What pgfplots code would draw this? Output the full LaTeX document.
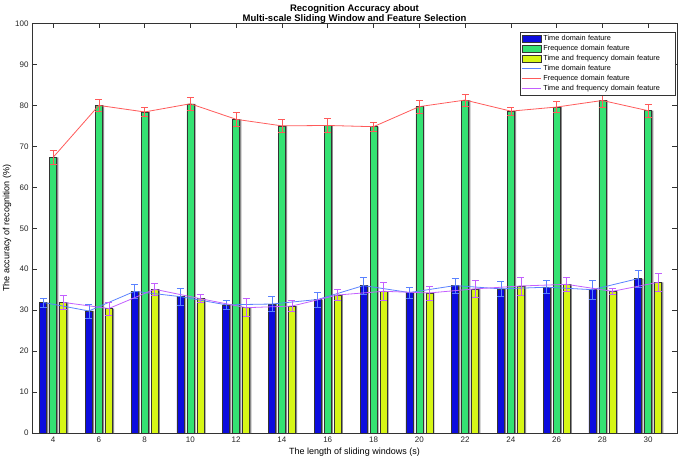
\documentclass[border=0pt]{standalone}
\usepackage{fontspec}
\setmainfont{Liberation Sans}
\usepackage{pgfplots}
\pgfplotsset{compat=1.18}
\usepackage{pgfplotstable}

\definecolor{barblue}{RGB}{12,12,222}
\definecolor{bargreen}{RGB}{52,226,114}
\definecolor{baryellow}{RGB}{214,246,22}
\definecolor{lineblue}{RGB}{90,130,255}
\definecolor{linered}{RGB}{255,90,90}
\definecolor{linepurple}{RGB}{195,95,255}

\pgfplotstableread{
x v e
1 31.9 1.1
2 29.8 1.7
3 34.6 1.8
4 33.3 2.0
5 31.3 1.2
6 31.5 1.9
7 32.6 1.8
8 36.0 2.1
9 34.3 1.3
10 36.0 1.8
11 35.2 1.8
12 35.6 1.6
13 35.0 2.4
14 37.7 2.0
}\timedata

\pgfplotstableread{
x v e
1 67.3 1.7
2 80.0 1.5
3 78.4 1.1
4 80.4 1.6
5 76.6 1.8
6 75.0 1.6
7 75.1 1.7
8 74.8 1.05
9 79.7 1.6
10 81.3 1.4
11 78.6 0.95
12 79.6 1.35
13 81.2 1.75
14 78.7 1.5
}\freqdata

\pgfplotstableread{
x v e
1 31.9 1.7
2 30.4 1.6
3 35.1 1.4
4 32.8 1.0
5 30.6 2.2
6 31.0 1.3
7 33.7 1.4
8 34.6 2.2
9 34.2 1.7
10 35.2 2.0
11 35.9 2.2
12 36.3 1.8
13 34.6 0.75
14 36.8 2.2
}\bothdata

\pgfplotsset{
  barleg/.style={legend image code/.code={\draw[##1] (0pt,-3.5pt) rectangle (19pt,3.5pt);}},
  lineleg/.style={legend image code/.code={\draw[##1] (0pt,0pt) -- (19pt,0pt);}},
}

\begin{document}
\begin{tikzpicture}
\path[use as bounding box] (-32pt,-25pt) rectangle (653pt,433pt);
\begin{axis}[
  at={(0pt,0pt)}, anchor=south west,
  scale only axis, width=645pt, height=409.5pt,
  xmin=0.54, xmax=14.63, ymin=0, ymax=100,
  xtick={1,2,...,14},
  xticklabels={4,6,8,10,12,14,16,18,20,22,24,26,28,30},
  ytick={0,10,...,100},
  tick align=inside, major tick length=5pt,
  axis line style={black!80, line width=0.8pt},
  tick style={black!80, line width=0.6pt},
  /pgf/number format/assume math mode=true,
  tick label style={font=\fontsize{8}{9}\selectfont, text=black!85},
  xlabel={The length of sliding windows (s)},
  ylabel={The accuracy of recognition (\%)},
  label style={font=\fontsize{9}{10}\selectfont},
  ylabel style={yshift=-3pt},
  xlabel style={yshift=1pt},
  title={Recognition Accuracy about\\Multi-scale Sliding Window and Feature Selection},
  title style={align=center, font=\bfseries\fontsize{9.5}{10}\selectfont, at={(0.5,1)}, anchor=south, yshift=-7pt, inner sep=1pt},
  legend style={at={(0.997,0.98)}, anchor=north east, font=\fontsize{7.3}{8}\selectfont,
    draw=black!80, inner sep=1.5pt, row sep=-0.8pt, legend cell align=left,
    nodes={text width=128pt, align=left}},
]
% bar shadows
\addplot[ybar, bar width=7pt, bar shift=-8.3pt, fill=black!45, draw=none, forget plot] table[x=x,y=v]{\timedata};
\addplot[ybar, bar width=7pt, bar shift=1.7pt, fill=black!45, draw=none, forget plot] table[x=x,y=v]{\freqdata};
\addplot[ybar, bar width=7pt, bar shift=11.7pt, fill=black!45, draw=none, forget plot] table[x=x,y=v]{\bothdata};
% bars
\addplot[ybar, barleg, bar width=7pt, bar shift=-10pt, fill=barblue, draw=black!80, line width=0.5pt] table[x=x,y=v]{\timedata};
\addlegendentry{Time domain feature}
\addplot[ybar, barleg, bar width=7pt, bar shift=0pt, fill=bargreen, draw=black!80, line width=0.5pt] table[x=x,y=v]{\freqdata};
\addlegendentry{Frequence domain feature}
\addplot[ybar, barleg, bar width=7pt, bar shift=10pt, fill=baryellow, draw=black!80, line width=0.5pt] table[x=x,y=v]{\bothdata};
\addlegendentry{Time and frequency domain feature}
% lines with error bars
\addplot[lineleg, color=lineblue, line width=0.8pt, mark=none,
  error bars/.cd, y dir=both, y explicit,
  error bar style={lineblue, line width=0.6pt},
  error mark options={lineblue, line width=0.6pt, mark size=3.5pt, rotate=90}]
  table[x expr=\thisrow{x}-0.2185, y=v, y error=e]{\timedata};
\addlegendentry{Time domain feature}
\addplot[lineleg, color=linered, line width=0.8pt, mark=none,
  error bars/.cd, y dir=both, y explicit,
  error bar style={linered, line width=0.6pt},
  error mark options={linered, line width=0.6pt, mark size=3.5pt, rotate=90}]
  table[x=x, y=v, y error=e]{\freqdata};
\addlegendentry{Frequence domain feature}
\addplot[lineleg, color=linepurple, line width=0.8pt, mark=none,
  error bars/.cd, y dir=both, y explicit,
  error bar style={linepurple, line width=0.6pt},
  error mark options={linepurple, line width=0.6pt, mark size=3.5pt, rotate=90}]
  table[x expr=\thisrow{x}+0.2185, y=v, y error=e]{\bothdata};
\addlegendentry{Time and frequency domain feature}
\end{axis}
\end{tikzpicture}
\end{document}
